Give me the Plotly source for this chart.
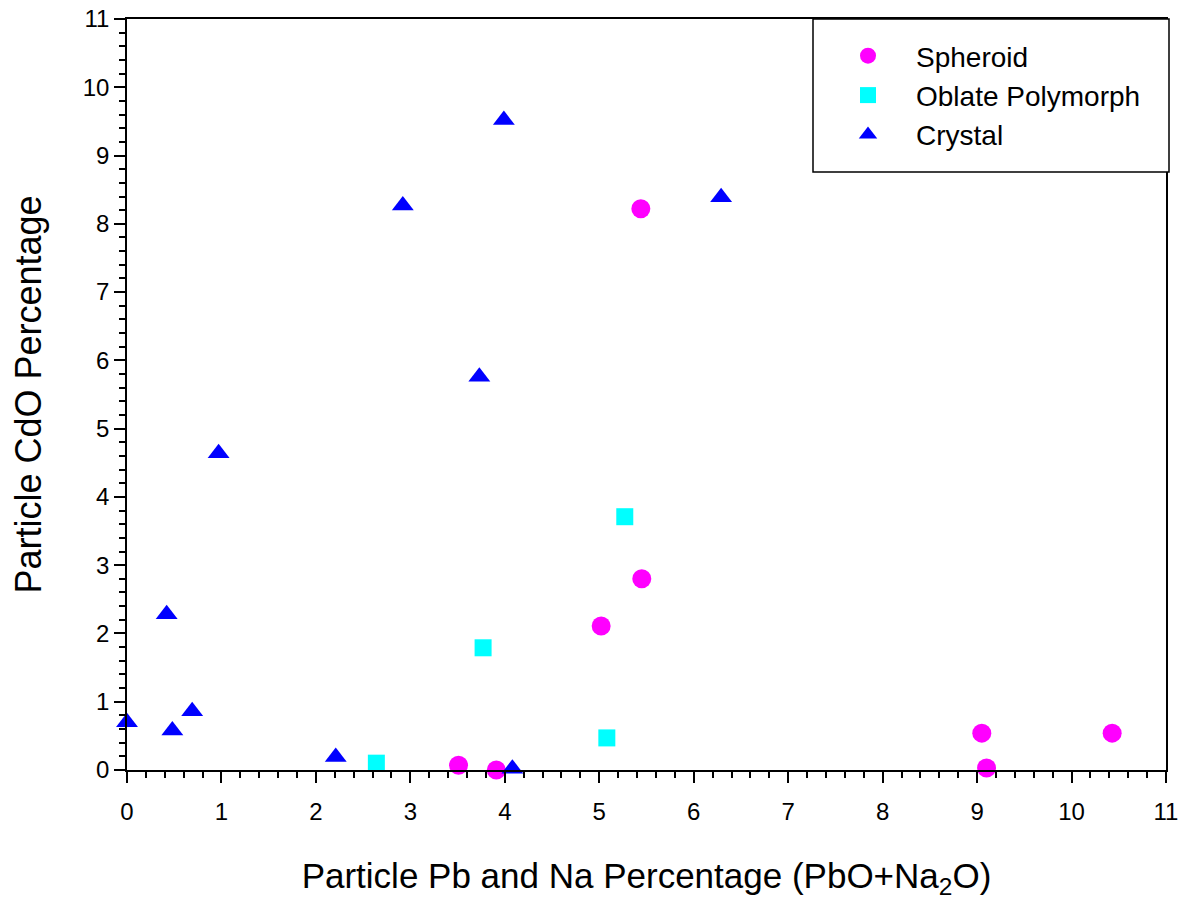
import plotly.graph_objects as go

# Data
spheroid_x = [3.51, 3.91, 5.02, 5.45, 5.44, 9.05, 9.10, 10.43]
spheroid_y = [0.07, 0.00, 2.11, 2.80, 8.22, 0.54, 0.03, 0.54]

oblate_x = [2.64, 3.77, 5.08, 5.27]
oblate_y = [0.10, 1.79, 0.47, 3.71]

crystal_x = [0.00, 0.42, 0.48, 0.69, 0.97, 2.21, 2.92, 3.73, 3.99, 4.08, 6.29]
crystal_y = [0.70, 2.28, 0.58, 0.86, 4.64, 0.19, 8.27, 5.76, 9.52, 0.02, 8.39]

series_names = ["Spheroid", "Oblate Polymorph", "Crystal"]
x_title = "Particle Pb and Na Percentage (PbO+Na<sub>2</sub>O)"
y_title = "Particle CdO Percentage"
axis_range = [0, 11]

FONT = "Liberation Sans, Arial, sans-serif"

fig = go.Figure()
fig.add_trace(go.Scatter(x=spheroid_x, y=spheroid_y, mode="markers", name=series_names[0],
                         legendgroup="a",
                         marker=dict(symbol="circle", size=19, color="#ff00ff"), cliponaxis=False))
fig.add_trace(go.Scatter(x=oblate_x, y=oblate_y, mode="markers", name=series_names[1],
                         legendgroup="b",
                         marker=dict(symbol="square", size=17, color="#00ffff"), cliponaxis=False))
fig.add_trace(go.Scatter(x=crystal_x, y=crystal_y, mode="markers", name=series_names[2],
                         legendgroup="c",
                         marker=dict(symbol="triangle-up", size=19, color="#0000ff"), cliponaxis=False))

axis_common = dict(
    range=axis_range, dtick=1, tick0=0,
    showgrid=False, zeroline=False,
    showline=True, linecolor="black", linewidth=1.5, mirror=True,
    ticks="outside", ticklen=11, tickwidth=1.5, tickcolor="black",
    tickfont=dict(family=FONT, size=24, color="black"),
    minor=dict(dtick=0.2, ticks="outside", ticklen=6, tickwidth=1.5, tickcolor="black", showgrid=False),
)

fig.update_layout(
    width=1183, height=900,
    margin=dict(l=127, r=17, t=19, b=130, autoexpand=False),
    paper_bgcolor="white", plot_bgcolor="white",
    font=dict(family=FONT, color="black"),
    xaxis=dict(**axis_common, ticklabelstandoff=8,
               title=dict(text=x_title, font=dict(family=FONT, size=35, color="black"), standoff=41)),
    yaxis=dict(**axis_common,
               title=dict(text=y_title, font=dict(family=FONT, size=36, color="black"), standoff=30)),
    showlegend=True,
    legend=dict(
        x=(820 - 127) / 1039, xanchor="left", y=1.0 - 12 / 751, yanchor="top",
        bgcolor="rgba(0,0,0,0)", borderwidth=0,
        font=dict(family=FONT, size=28, color="black"),
        itemwidth=86, tracegroupgap=0, traceorder="grouped",
    ),
    shapes=[dict(type="rect", xref="paper", yref="paper",
                 x0=(813 - 127) / 1039, x1=(1169 - 127) / 1039,
                 y0=(770 - 172) / 751, y1=1.0,
                 line=dict(color="black", width=1.5), fillcolor="white", layer="above")],
)

fig.write_html("out.html")
